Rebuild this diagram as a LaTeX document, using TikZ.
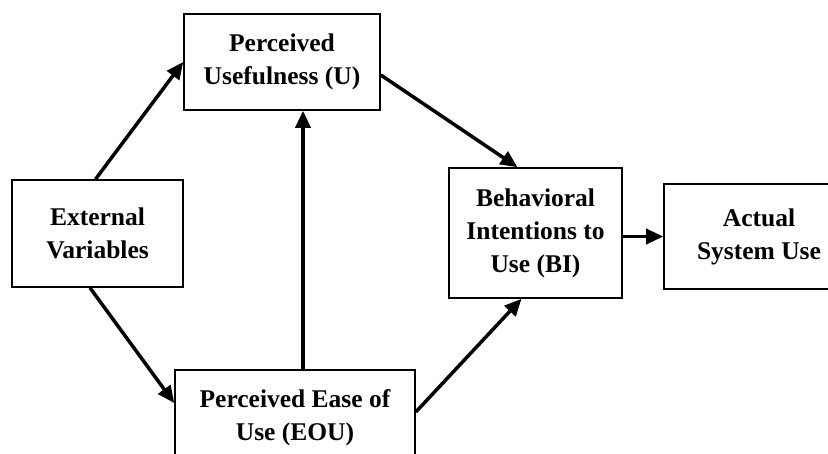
\documentclass[tikz,border=0pt]{standalone}
\usepackage{fontspec}
\setmainfont{Liberation Serif}
\usetikzlibrary{arrows.meta,positioning}

\begin{document}
\begin{tikzpicture}[x=1pt,y=-1pt,->,>={Triangle[length=17pt,width=15pt]},
  line width=3.5pt,
  block/.style={draw,line width=1.6pt,align=center,inner sep=0pt,
    font=\fontsize{25.5}{33}\selectfont\bfseries}]

\clip (0,0) rectangle (828,453);

\node[block, minimum width=171pt, minimum height=107pt] (EV) at (97.5,233.5) {External\\Variables};
\node[block, minimum width=196pt, minimum height=96pt] (PU) at (282,62) {Perceived\\Usefulness (U)};
\node[block, minimum width=240pt, minimum height=96pt] (PEOU) at (295,418) {Perceived Ease of\\Use (EOU)};
\node[block, minimum width=173pt, minimum height=130pt] (BI) at (535.5,233) {Behavioral\\Intentions to\\Use (BI)};
\node[block, minimum width=190pt, minimum height=105pt] (ASU) at (759,236.5) {Actual\\System Use};

\coordinate (EOU_up) at ([xshift=8pt]PEOU.north);

\path
  ([xshift=-2pt]EV.north)   edge (PU.west)
  ([xshift=-7.5pt]EV.south) edge ([yshift=15pt]PEOU.west)

  (EOU_up)                  edge (EOU_up |- PU.south)
  ([yshift=-13pt]PU.east)   edge ([xshift=-18pt]BI.north)
  ([yshift=6pt]PEOU.east)   edge ([xshift=-14pt]BI.south)

  (BI.east |- ASU.west)     edge (ASU.west)
;
\end{tikzpicture}
\end{document}
